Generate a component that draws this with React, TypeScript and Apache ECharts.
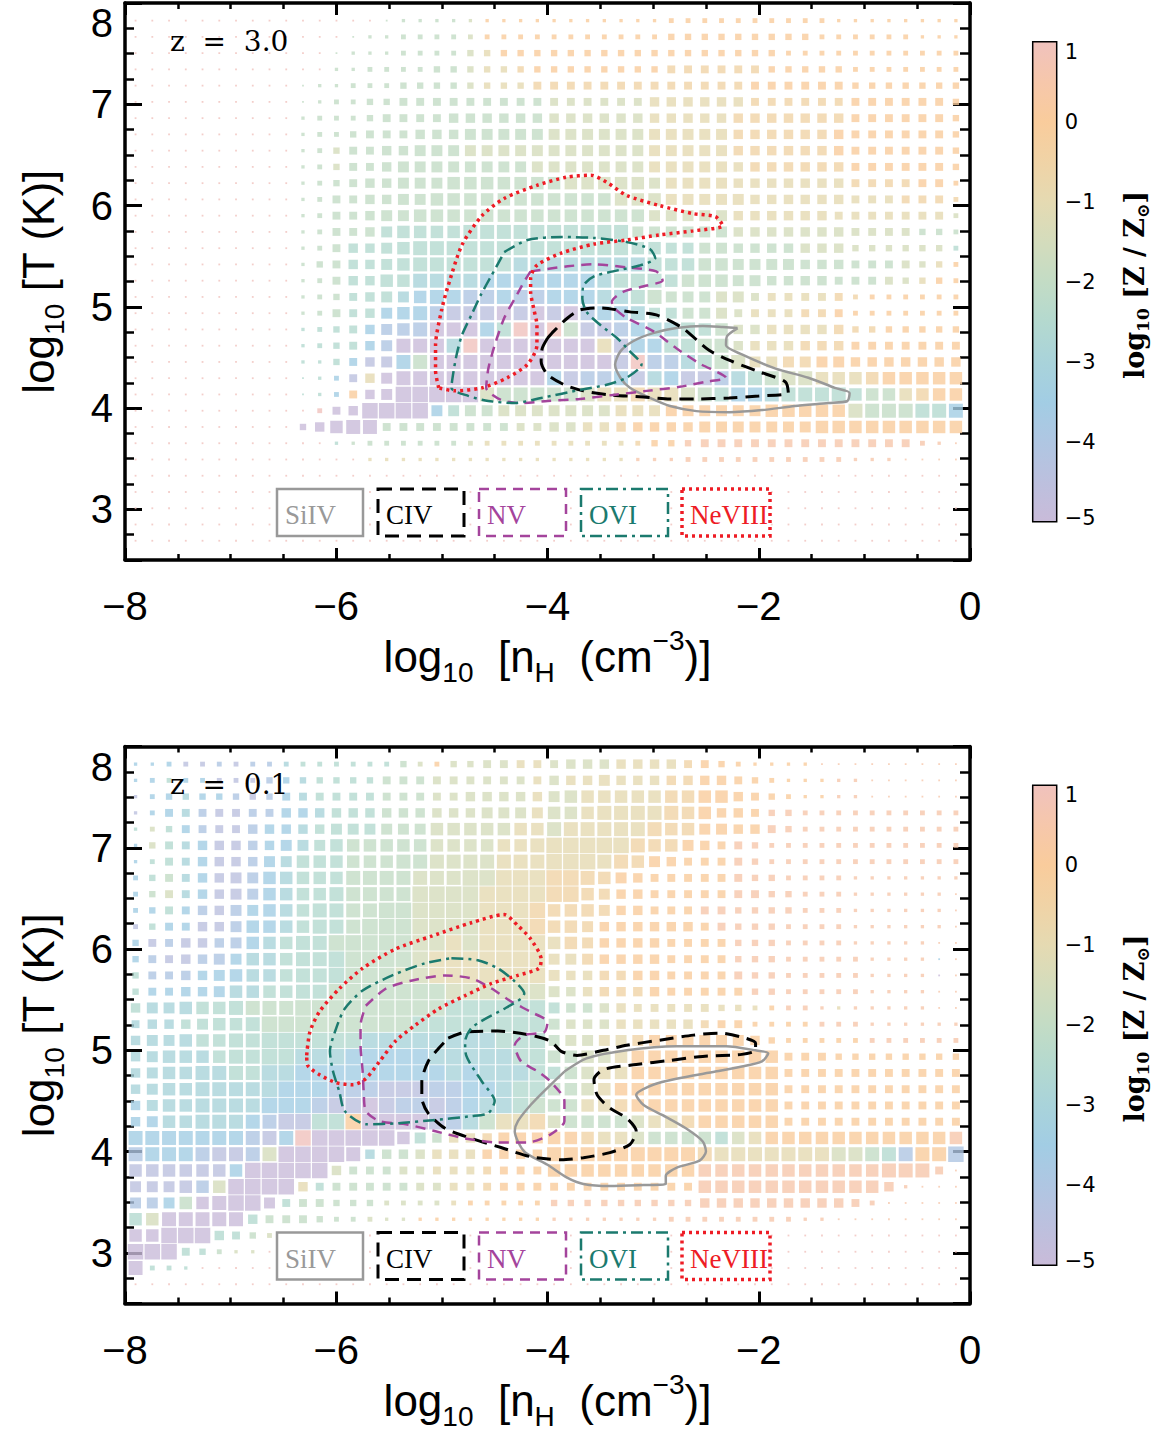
import { useEffect, useRef } from "react";
import * as echarts from "echarts";

const SANS = "'Liberation Sans', Arial, sans-serif";
const SERIF = "'Liberation Serif', 'Times New Roman', serif";
const WIDE_SERIF = "'DejaVu Serif', serif";

// log10 Z/Zsun colour scale, -5 .. +1 in half-dex steps
const Z_COLORS = [
  "#c9bbd9", "#bcc0de", "#afc6e2", "#a2cde4", "#a9d3da", "#b4d9cf", "#c3dcc5",
  "#d4dcbc", "#e5dab2", "#f0d3a6", "#f9cc9c", "#f6c7ab", "#f0c2bd",
];
const Z_TICKS = [1, 0, -1, -2, -3, -4, -5];

// phase-space bins: 50 density columns, 33 temperature rows
const NH_FIRST = -7.9;
const NH_STEP = 0.1585;
const T_LOWEST = 2.69;
const T_STEP = 0.1605;

const REDSHIFTS = ["z  =  3.0", "z  =  0.1"];

const IONS = ["SiIV", "CIV", "NV", "OVI", "NeVIII"];
const ION_COLORS = ["#999999", "#000000", "#a4449c", "#1b7a6e", "#ee1c25"];
const ION_DASH: (number[] | null)[] = [null, [14, 8], [10, 7], [12, 5, 3, 5], [3, 4]];
const ION_WIDTH = [2.5, 3, 2.5, 2.5, 3.5];

// rows run from the hottest bin (top) to the coldest; one char per density bin
// size: 0 (tiny dot) .. 9 (full cell); metallicity: char c -> -5 + 0.5 * c (base 13)
const TOP_SIZE = [
  "0000000000 0000001111 1111111111 1122222222 2211111111",
  "0000000000 0000112222 2222222222 2233333333 3222222111",
  "0000000000 0001112222 3333333333 3333333332 2222222222",
  "0000000000 0011222233 3333333333 3344444433 3332222222",
  "0000000000 0112223333 3333444444 4444444444 4443333333",
  "0000000000 0122334444 4444444444 4555555444 4444444443",
  "0000000000 1222344445 5555555555 5555555555 5554444443",
  "0000000000 1223444555 6666666666 6666665555 5554444443",
  "0000000000 1234455666 6666666666 6666665555 5554444443",
  "0000000000 1234456666 6666666666 6666665555 5554444443",
  "0000000000 1234556667 7777777777 7666665555 5554444442",
  "0000000000 1244556677 7777777777 7766666555 5554444442",
  "0000000000 1244566777 7777777777 7666665555 5544444442",
  "0000000000 1244567777 8888888888 6666665555 5554444332",
  "0000000000 1245567888 8888888888 7766665555 5553333332",
  "0000000000 1345567888 8888888888 8877776666 5554444332",
  "0000000000 1245577888 8888888888 8877776655 5544443332",
  "0000000000 1234566788 8888888888 8866666444 4442222222",
  "0000000000 1244567888 8888888888 8666664444 4442222222",
  "0000000000 1234567888 8888888888 8888775555 5553333333",
  "0000000000 1234568888 8888888888 8888885555 5554444444",
  "0000000000 1134568888 8888888888 8888888666 6665555555",
  "0000000000 0124568888 8888888888 8888888888 8777777777",
  "0000000000 0124569999 9888888888 8888888888 8887777777",
  "0000000000 0245999966 6666666666 6666666677 7778888888",
  "0000000000 3578844444 4444455555 5555666666 6777777777",
  "0000000000 0011222222 2222222222 2333444444 4444444210",
  "0000000000 0000111111 1111111111 1112222222 2221110000",
  "0000000000 0000000000 0000000000 0000000000 0000000000",
  "0000000000 0000000000 0000000000 0000000000 0000000000",
  "0000000000 0000000000 0000000000 0000000000 0000000000",
  "0000000000 0000000000 0000000000 0000000000 0000000000",
  "0000000000 0000000000 0000000000 0000000000 0000000000",
];
const TOP_Z = [
  "cccccccccc ccccc66666 7aaaaaaaaa aaaaaaaaaa aaaaaaaaaa",
  "cccccccccc ccc6666666 7aaaaaaaaa aaaaaaaaaa aaaaaaaaaa",
  "cccccccccc cc66666666 78aaaaaaaa aaaaaaaaaa aaaaaaaaaa",
  "cccccccccc cc66666666 7889aaaaaa aa999999aa aaaaaaaaaa",
  "cccccccccc 6666666666 7888999999 9999999aaa aaaaaaaaaa",
  "cccccccccc 6666666666 6666677777 7888888999 999aaaaaaa",
  "cccccccccc 6666666666 6666677777 7888889999 999aaaaaaa",
  "cccccccccc 6666666666 6666677777 7888889999 99aaaaaaaa",
  "cccccccccc 6676666666 7777777777 7888889999 99aaaaaaaa",
  "cccccccccc 6676666666 6666777777 7888888999 999aaaaaaa",
  "cccccccccc 6666666666 6666667777 7788888888 8889999aaa",
  "cccccccccc 6666666666 6666666667 7788888888 8888889999",
  "cccccccccc 6666666666 6666666666 6777778888 8888888887",
  "cccccccccc 6666655555 5555555555 6666667777 7777777666",
  "cccccccccc 6665555555 5555555555 5555666666 7777777775",
  "cccccccccc 6665555555 5554444444 4555666666 666666778a",
  "cccccccccc 6665555444 4333333345 5556666666 66666778aa",
  "cccccccccc 6665554333 2232233344 5666677788 8899aaaaaa",
  "cccccccccc 6665533321 1101010233 4556677888 99aaaaaaaa",
  "cccccccccc 5555322200 035c0c6112 3445567788 88999aaaaa",
  "cccccccccc 5555320004 c000000081 3355667888 999aaaaaaa",
  "cccccccccc 5553113600 0000000001 c224567889 9aaaaaaaaa",
  "cccccccccc 5531800000 0000031223 1431124567 78889aaaaa",
  "cccccccccc 553a000000 0766666788 9887653345 55556689aa",
  "cccccccccc cc00000035 6677777778 88aaaaaaaa aaa7666553",
  "cccccccccc 0000066666 6667777889 aaaaaaaaaa aaaaaaaaaa",
  "cccccccccc cc56666666 7888888888 9aabbbbbbb bbbbbbbbbb",
  "cccccccccc cccc888888 8888888888 bbbbbbbbbb bbbbbbbbbb",
  "cccccccccc cccccccccc cccccccccc cccccccccc cccccccccc",
  "cccccccccc cccccccccc cccccccccc cccccccccc cccccccccc",
  "cccccccccc cccccccccc cccccccccc cccccccccc cccccccccc",
  "cccccccccc cccccccccc cccccccccc cccccccccc cccccccccc",
  "cccccccccc cccccccccc cccccccccc cccccccccc cccccccccc",
];

const LOW_SIZE = [
  "1122222222 2222223223 3444445555 5554432111 1000000000",
  "1222222233 3333344444 4444455565 5555554321 1111000000",
  "1233333334 4444444444 5555567777 7777775432 1111000000",
  "1244444445 5555555555 5666677788 8887755433 2222222222",
  "1234444555 5566666677 7777788888 8877665543 2222222222",
  "1344555556 6677777777 7777899999 8776544322 2222222222",
  "1244555566 7777778888 8888899988 7654444322 2222222222",
  "2344556677 7778888888 9999999876 5444444332 2221111111",
  "2344556677 7788888999 9999999765 5444444433 2221111110",
  "2344556677 7888899999 9999977765 5444443333 2221111110",
  "2344556777 7888999999 9999977655 5555443332 2221111110",
  "3445556777 8899999999 9999977655 5544443332 2221111100",
  "3445566777 8899999999 9999966655 5544443332 2222111100",
  "3445567777 8899999999 9999965555 5544444332 2222111100",
  "3445567777 8899999999 9999965555 5544444332 2222111100",
  "5667778888 9999999999 9999965555 4444433222 2111111100",
  "4555677899 9999999999 9999965555 5555444222 2222111111",
  "5667778899 9999999999 9999966666 6666666532 2222222222",
  "5677778899 9999999999 9999977777 7777777774 4433333333",
  "5677888899 9999999999 9999977777 7777777774 4444444444",
  "5677888899 9999999999 9999977777 7777777774 4444444444",
  "5677888899 9999999999 9999977777 7777777774 4444444444",
  "5677888889 9999999999 9999977777 7777777774 4444444444",
  "8888888888 9999997655 5566677777 7777777777 7777777777",
  "8888888889 9998555555 5555588888 8888888888 8888888889",
  "7777777999 9954444444 4444477777 7777777777 7777788840",
  "6667779999 5444444444 4444444444 4444777777 7777751000",
  "6667789964 4433322222 2222233333 3333555555 5554200000",
  "7788888544 4322211111 1111111111 1122222222 1100000000",
  "7799954321 1000000000 0000000000 0000000000 0000000000",
  "9994321100 0000000000 0000000000 0000000000 0000000000",
  "8221000000 0000000000 0000000000 0000000000 0000000000",
  "0000000000 0000000000 0000000000 0000000000 0000000000",
];
const LOW_Z = [
  "3331121224 55555567a7 7778877778 8889aaaaaa abbbbbbbbb",
  "3353311123 4555566677 7777878888 8899aaaaaa aabbbbbbbb",
  "1334332123 4555566677 7777877888 8899aaaaaa aabbbbbbbb",
  "1334211223 3455566677 7777877888 8899aaaabb bbbbbbbbbb",
  "5753211233 4555566677 7778878888 8999aaaabb bbbbbbbbbb",
  "3754311233 4556666677 7788888888 999aaabbbb bbbbbbbbbb",
  "3554311234 5556666677 7788888889 9aaaaabbbb bbbbbbbbbb",
  "3564311234 5556666777 778889999a aaaaaabbbb bbbbbbbbbb",
  "3674311234 5556666777 788889999a aaaaaabbbb bbbbbbbbbb",
  "3353212334 5556666777 788899999a aaaabbbbbb bbbbbbbbbb",
  "1533112334 5556666777 78889999aa aaaaabbbbb bbbbbbbbbb",
  "3121122345 5566666778 78888899aa aaaaaabbbb bbbbbbbbbb",
  "3211223445 5556666788 88888889aa aaaaaabbbb bbbbbbbb3b",
  "5222333445 5556667788 8888888899 aaaaaabbbb bbbbbbbb0b",
  "5333334455 5566666667 7777777899 9aaaaaabbb bbbbbbbbbb",
  "5444555666 6666666665 5555556678 88888888ab bb8bbbbbbb",
  "4445555566 6666666555 5555567778 88889aaaaa abbbbbbbbb",
  "4444555555 5555444444 4455567788 9aaaaaaaaa aaaabbbbbb",
  "4444455555 4443333344 4445566778 aaaaaaaaaa aaaaaaaaaa",
  "4444445544 3333333334 3444556788 aaaaaaaaaa aaaaaaaaaa",
  "4444444443 3322211122 334556678a aaaaaaaaaa aaaaaaaaaa",
  "3444444433 3211012212 3445666889 aaaaaaaaaa aaaaaaaaaa",
  "3344444321 155a000012 4688976666 7889aaaaaa aaaaaaaaaa",
  "3333333213 c000000568 89aaaaa988 76666578aa aaaaaaaaab",
  "2333211270 0000466788 8aaaaaaaaa aaaa988888 8877652aa2",
  "1111113000 0076667788 89aaaaaaaa aaaabbbbbb bbbbbbbbbb",
  "1111270000 8566666778 89aaaaaaaa aaaabbbbbb bbbbbbbbbb",
  "2236000005 6666677778 aaaaabbbbb bbbbbbbbbb bbbbbbbbbb",
  "5700000566 6666777aaa aaaaabbbbb bbbbbbbbbb bbbbbbbbbb",
  "0000055677 7ccccccccc cccccccccc cccccccccc cccccccccc",
  "00055677cc cccccccccc cccccccccc cccccccccc cccccccccc",
  "0555cccccc cccccccccc cccccccccc cccccccccc cccccccccc",
  "cccccccccc cccccccccc cccccccccc cccccccccc cccccccccc",
];

// ion contours, [log nH, log T]
const TOP_SIIV = [[-2.2,4.79],[-2.3,4.71],[-2.31,4.62],[-2.16,4.53],[-1.84,4.39],[-1.53,4.3],[-1.28,4.2],[-1.14,4.15],[-1.16,4.07],[-1.34,4.05],[-1.66,4.02],[-1.97,3.98],[-2.28,3.96],[-2.59,3.97],[-2.84,4.02],[-3.03,4.1],[-3.22,4.2],[-3.31,4.3],[-3.36,4.43],[-3.31,4.56],[-3.19,4.66],[-3.0,4.74],[-2.78,4.79],[-2.53,4.81],[-2.34,4.8],[-2.2,4.79]];
const TOP_CIV = [[-4.0,4.69],[-3.94,4.76],[-3.81,4.89],[-3.69,4.97],[-3.5,4.99],[-3.22,4.95],[-2.97,4.92],[-2.72,4.79],[-2.47,4.57],[-2.25,4.46],[-2.0,4.36],[-1.75,4.26],[-1.72,4.15],[-2.0,4.12],[-2.28,4.1],[-2.59,4.09],[-2.84,4.09],[-3.09,4.11],[-3.41,4.13],[-3.66,4.17],[-3.84,4.23],[-4.0,4.33],[-4.06,4.46],[-4.05,4.59],[-4.0,4.69]];
const TOP_NV = [[-4.16,5.35],[-3.81,5.4],[-3.56,5.42],[-3.25,5.39],[-2.97,5.35],[-2.91,5.26],[-3.06,5.21],[-3.28,5.15],[-3.39,5.05],[-3.36,4.98],[-3.25,4.89],[-3.0,4.76],[-2.78,4.59],[-2.56,4.44],[-2.31,4.3],[-2.5,4.26],[-2.75,4.21],[-3.06,4.17],[-3.38,4.13],[-3.69,4.09],[-4.0,4.07],[-4.25,4.05],[-4.44,4.08],[-4.58,4.2],[-4.56,4.39],[-4.5,4.62],[-4.41,4.89],[-4.31,5.08],[-4.22,5.25],[-4.16,5.35]];
const TOP_OVI = [[-4.41,5.54],[-4.19,5.66],[-3.87,5.69],[-3.56,5.68],[-3.25,5.64],[-3.03,5.57],[-2.98,5.48],[-3.12,5.41],[-3.38,5.35],[-3.56,5.3],[-3.66,5.21],[-3.67,5.08],[-3.63,4.95],[-3.5,4.82],[-3.34,4.69],[-3.22,4.56],[-3.11,4.43],[-3.25,4.3],[-3.44,4.23],[-3.69,4.18],[-4.06,4.1],[-4.31,4.05],[-4.56,4.07],[-4.75,4.12],[-4.91,4.2],[-4.89,4.36],[-4.86,4.53],[-4.81,4.72],[-4.72,4.92],[-4.63,5.12],[-4.53,5.31],[-4.44,5.48],[-4.41,5.54]];
const TOP_NEVIII = [[-5.03,4.2],[-5.06,4.37],[-5.06,4.62],[-5.0,4.98],[-4.94,5.21],[-4.81,5.61],[-4.62,5.9],[-4.41,6.07],[-4.1,6.2],[-3.82,6.28],[-3.59,6.3],[-3.44,6.23],[-3.25,6.1],[-2.94,6.0],[-2.62,5.92],[-2.41,5.89],[-2.34,5.8],[-2.62,5.75],[-2.94,5.71],[-3.25,5.66],[-3.56,5.62],[-3.87,5.53],[-4.1,5.41],[-4.16,5.28],[-4.16,5.15],[-4.13,4.98],[-4.1,4.82],[-4.1,4.62],[-4.19,4.43],[-4.38,4.3],[-4.62,4.2],[-4.88,4.17],[-5.03,4.2]];

const LOW_SIIV = [[-3.84,4.79],[-3.63,4.92],[-3.25,5.0],[-2.78,5.04],[-2.31,5.04],[-2.03,5.0],[-1.91,4.97],[-1.97,4.89],[-2.16,4.84],[-2.41,4.79],[-2.78,4.72],[-3.0,4.66],[-3.16,4.56],[-3.09,4.46],[-2.91,4.36],[-2.69,4.23],[-2.53,4.1],[-2.5,4.0],[-2.56,3.91],[-2.78,3.84],[-2.88,3.76],[-2.88,3.68],[-3.09,3.67],[-3.41,3.66],[-3.66,3.68],[-3.81,3.74],[-4.0,3.87],[-4.22,4.0],[-4.31,4.2],[-4.28,4.3],[-4.16,4.46],[-4.0,4.63],[-3.84,4.79]];
const LOW_CIV = [[-4.94,5.12],[-4.78,5.18],[-4.47,5.19],[-4.16,5.15],[-3.97,5.09],[-3.87,4.99],[-3.72,4.95],[-3.47,5.0],[-3.25,5.05],[-2.94,5.1],[-2.62,5.15],[-2.37,5.17],[-2.16,5.13],[-2.03,5.07],[-2.03,5.0],[-2.16,4.96],[-2.53,4.94],[-2.84,4.9],[-3.16,4.86],[-3.47,4.81],[-3.56,4.71],[-3.53,4.56],[-3.41,4.43],[-3.25,4.33],[-3.16,4.2],[-3.22,4.07],[-3.41,3.99],[-3.66,3.94],[-3.87,3.92],[-4.16,3.95],[-4.44,4.04],[-4.72,4.13],[-4.97,4.23],[-5.13,4.38],[-5.19,4.53],[-5.19,4.69],[-5.13,4.89],[-5.03,5.02],[-4.94,5.12]];
const LOW_NV = [[-5.72,5.44],[-5.53,5.61],[-5.28,5.69],[-4.97,5.74],[-4.72,5.71],[-4.53,5.61],[-4.34,5.48],[-4.16,5.38],[-4.0,5.28],[-4.03,5.18],[-4.22,5.15],[-4.31,5.05],[-4.25,4.89],[-4.09,4.79],[-3.97,4.69],[-3.84,4.5],[-3.84,4.3],[-3.97,4.17],[-4.19,4.09],[-4.47,4.09],[-4.78,4.13],[-5.06,4.2],[-5.34,4.27],[-5.59,4.3],[-5.72,4.4],[-5.74,4.59],[-5.75,4.79],[-5.77,5.05],[-5.77,5.25],[-5.72,5.44]];
const LOW_OVI = [[-4.91,5.91],[-4.66,5.89],[-4.47,5.81],[-4.31,5.68],[-4.22,5.56],[-4.25,5.51],[-4.41,5.41],[-4.59,5.31],[-4.72,5.22],[-4.78,5.09],[-4.77,4.95],[-4.62,4.69],[-4.5,4.5],[-4.56,4.38],[-4.72,4.35],[-5.09,4.31],[-5.41,4.28],[-5.72,4.27],[-5.92,4.4],[-5.97,4.59],[-6.03,4.79],[-6.06,4.99],[-6.0,5.22],[-5.92,5.41],[-5.75,5.59],[-5.47,5.74],[-5.16,5.86],[-4.91,5.91]];
const LOW_NEVIII = [[-6.28,4.95],[-6.25,5.18],[-6.16,5.38],[-5.97,5.61],[-5.75,5.81],[-5.44,6.0],[-5.09,6.13],[-4.72,6.26],[-4.41,6.34],[-4.28,6.23],[-4.16,6.1],[-4.06,5.9],[-4.08,5.81],[-4.28,5.74],[-4.53,5.66],[-4.78,5.54],[-5.03,5.41],[-5.25,5.25],[-5.44,5.09],[-5.59,4.89],[-5.72,4.72],[-5.84,4.66],[-6.0,4.68],[-6.16,4.76],[-6.27,4.85],[-6.28,4.95]];

const PANELS = [
  { size: TOP_SIZE, z: TOP_Z, contours: [TOP_SIIV, TOP_CIV, TOP_NV, TOP_OVI, TOP_NEVIII] },
  { size: LOW_SIZE, z: LOW_Z, contours: [LOW_SIIV, LOW_CIV, LOW_NV, LOW_OVI, LOW_NEVIII] },
];

// layout (px)
const PANEL_TOP = [3, 746.5];
const PLOT_LEFT = 116.7;
const PLOT_W = 853.3;
const PLOT_H = 557;
const BAR_LEFT = 1032.7;
const BAR_OFFSET = 38.7;
const BAR_W = 24;
const BAR_H = 480;
const LEGEND_LEFT = [277, 378, 479, 581, 682];
const LEGEND_W = [86, 86, 87, 87, 88];
const LEGEND_OFFSET = 486;
const LEGEND_H = 47;

function cells(sizeRows: string[], zRows: string[]) {
  const out: number[][] = [];
  sizeRows.forEach((row, r) => {
    const sizes = row.replace(/\s+/g, "");
    const zs = zRows[r].replace(/\s+/g, "");
    const t = T_LOWEST + (sizeRows.length - 1 - r) * T_STEP;
    for (let c = 0; c < sizes.length; c++) {
      out.push([NH_FIRST + c * NH_STEP, t, -5 + 0.5 * parseInt(zs[c], 13), Number(sizes[c])]);
    }
  });
  return out;
}

const minus = (v: number) => String(v).replace("-", "\u2212");

const frameLine = { show: true, onZero: false, lineStyle: { color: "#000", width: 3.5 } };

const titleStyle = {
  color: "#000",
  fontFamily: SANS,
  fontSize: 44,
  lineHeight: 60,
  rich: {
    s: { fontFamily: SANS, fontSize: 28, lineHeight: 24, verticalAlign: "bottom" },
    p: { fontFamily: SANS, fontSize: 28, lineHeight: 36, verticalAlign: "top" },
  },
};

function buildOption() {
  const grid: any[] = [];
  const xAxis: any[] = [];
  const yAxis: any[] = [];
  const series: any[] = [];
  const graphic: any[] = [];

  PANEL_TOP.forEach((top) => {
    grid.push({ left: PLOT_LEFT, top, width: PLOT_W, height: PLOT_H });
  });
  PANEL_TOP.forEach((top) => {
    grid.push({ left: BAR_LEFT, top: top + BAR_OFFSET, width: BAR_W, height: BAR_H });
  });

  PANEL_TOP.forEach((_, i) => {
    const xBase = {
      gridIndex: i,
      type: "value",
      min: -8,
      max: 0,
      interval: 2,
      axisLine: frameLine,
      axisTick: { inside: true, length: 12, lineStyle: { color: "#000", width: 3 } },
      minorTick: { show: true, splitNumber: 4, length: 6, lineStyle: { color: "#000", width: 2.5 } },
      splitLine: { show: false },
    };
    xAxis.push({
      ...xBase,
      position: "bottom",
      axisLabel: { margin: 26, fontSize: 40, fontFamily: SANS, color: "#000", formatter: minus },
      name: "log{s|10}  [n{s|H}  (cm{p|\u22123})]",
      nameLocation: "middle",
      nameGap: 64,
      nameTextStyle: titleStyle,
    });
    xAxis.push({ ...xBase, position: "top", axisLabel: { show: false } });

    const yMajor = {
      gridIndex: i,
      type: "value",
      min: 2.5,
      max: 8,
      splitNumber: 5,
      axisLine: frameLine,
      axisTick: { inside: true, length: 17, lineStyle: { color: "#000", width: 3 } },
      splitLine: { show: false },
    };
    const yMinor = {
      gridIndex: i,
      type: "value",
      min: 2.5,
      max: 8,
      interval: 0.25,
      axisLine: { show: false, onZero: false },
      axisTick: { inside: true, length: 9, lineStyle: { color: "#000", width: 2.5 } },
      axisLabel: { show: false },
      splitLine: { show: false },
    };
    yAxis.push({
      ...yMajor,
      position: "left",
      axisLabel: {
        margin: 12,
        fontSize: 40,
        fontFamily: SANS,
        color: "#000",
        verticalAlignMaxLabel: "top",
        formatter: (v: number) => (Number.isInteger(v) ? String(v) : ""),
      },
      name: "log{s|10} [T (K)]",
      nameLocation: "middle",
      nameRotate: 90,
      nameGap: 57,
      nameTextStyle: titleStyle,
    });
    yAxis.push({ ...yMinor, position: "left" });
    yAxis.push({ ...yMajor, position: "right", axisLabel: { show: false } });
    yAxis.push({ ...yMinor, position: "right", axisTick: { ...yMinor.axisTick, length: 10 } });
  });

  PANEL_TOP.forEach((top, i) => {
    xAxis.push({ gridIndex: 2 + i, type: "value", min: 0, max: 1, show: false });
    yAxis.push({
      gridIndex: 2 + i,
      type: "value",
      position: "right",
      min: -5,
      max: 1,
      interval: 1,
      axisLine: { show: false, onZero: false },
      axisTick: { show: false },
      splitLine: { show: false },
      axisLabel: {
        margin: 8,
        fontSize: 21,
        fontFamily: "'DejaVu Sans', sans-serif",
        color: "#000",
        formatter: (v: number) =>
          v === Z_TICKS[0] ? `{hi|${v}}` : v === Z_TICKS[Z_TICKS.length - 1] ? `{lo|${minus(v)}}` : minus(v),
        rich: {
          hi: { fontSize: 21, fontFamily: "'DejaVu Sans', sans-serif", color: "#000", padding: [20, 0, 0, 0] },
          lo: { fontSize: 21, fontFamily: "'DejaVu Sans', sans-serif", color: "#000", padding: [0, 0, 8, 0] },
        },
      },
    });

    graphic.push({
      type: "rect",
      z: 10,
      shape: { x: BAR_LEFT, y: top + BAR_OFFSET, width: BAR_W, height: BAR_H },
      style: {
        fill: new echarts.graphic.LinearGradient(
          0, 1, 0, 0,
          Z_COLORS.map((color, k) => ({ offset: k / (Z_COLORS.length - 1), color })),
        ),
        stroke: "#000",
        lineWidth: 1.5,
      },
    });
    graphic.push({
      type: "text",
      z: 10,
      x: 1134,
      y: top + 282,
      rotation: Math.PI / 2,
      style: {
        text: "log{s|10} [Z / Z{s|\u2299}]",
        fontFamily: WIDE_SERIF,
        fontSize: 27,
        fontWeight: "bold",
        lineHeight: 34,
        fill: "#000",
        align: "center",
        verticalAlign: "middle",
        rich: {
          s: { fontFamily: WIDE_SERIF, fontSize: 17, fontWeight: "bold", lineHeight: 18, verticalAlign: "bottom", fill: "#000" },
        },
      },
    });
    graphic.push({
      type: "text",
      z: 100,
      x: 170,
      y: top + 38,
      style: {
        text: REDSHIFTS[i],
        fontFamily: WIDE_SERIF,
        fontSize: 28,
        fill: "#000",
        align: "left",
        verticalAlign: "middle",
      },
    });

    IONS.forEach((ion, k) => {
      const box = { x: LEGEND_LEFT[k], y: top + LEGEND_OFFSET, width: LEGEND_W[k], height: LEGEND_H };
      graphic.push({ type: "rect", z: 100, shape: box, style: { fill: "#fff", stroke: null } });
      graphic.push({
        type: "text",
        z: 101,
        x: LEGEND_LEFT[k] + 8,
        y: top + LEGEND_OFFSET + 26,
        style: {
          text: ion,
          fontFamily: SERIF,
          fontSize: 27,
          fill: ION_COLORS[k],
          align: "left",
          verticalAlign: "middle",
        },
      });
      graphic.push({
        type: "rect",
        z: 102,
        shape: box,
        style: {
          fill: "none",
          stroke: ION_COLORS[k],
          lineWidth: ION_WIDTH[k],
          lineDash: ION_DASH[k],
        },
      });
    });
  });

  PANELS.forEach((panel, i) => {
    series.push({
      type: "scatter",
      xAxisIndex: 2 * i,
      yAxisIndex: 4 * i,
      symbol: "rect",
      silent: true,
      progressive: 0,
      z: 2,
      data: cells(panel.size, panel.z),
    });
  });
  PANELS.forEach((panel, i) => {
    panel.contours.forEach((points, k) => {
      series.push({
        type: "line",
        name: IONS[k],
        xAxisIndex: 2 * i,
        yAxisIndex: 4 * i,
        data: points,
        symbol: "none",
        showSymbol: false,
        silent: true,
        smooth: 0.25,
        z: 4,
        lineStyle: {
          color: ION_COLORS[k],
          width: ION_WIDTH[k],
          type: ION_DASH[k] ?? "solid",
        },
      });
    });
  });

  return {
    animation: false,
    backgroundColor: "#fff",
    textStyle: { fontFamily: SANS },
    grid,
    xAxis,
    yAxis,
    visualMap: [
      {
        type: "continuous",
        show: false,
        seriesIndex: [0, 1],
        dimension: 2,
        min: -5,
        max: 1,
        inRange: { color: Z_COLORS },
      },
      {
        type: "continuous",
        show: false,
        seriesIndex: [0, 1],
        dimension: 3,
        min: 0,
        max: 9,
        inRange: { symbolSize: [1.8, 15.5] },
      },
    ],
    series,
    graphic,
  };
}

export default function App() {
  const containerRef = useRef<HTMLDivElement | null>(null);

  useEffect(() => {
    const target = containerRef.current;
    if (target === null) return;
    const chart = echarts.init(target, null, { renderer: "svg" });
    chart.setOption(buildOption());
    return () => {
      chart.dispose();
    };
  }, []);

  return (
    <div
      ref={containerRef}
      style={{ position: "absolute", left: 0, top: 0, width: 1154, height: 1432, background: "#fff" }}
    />
  );
}
